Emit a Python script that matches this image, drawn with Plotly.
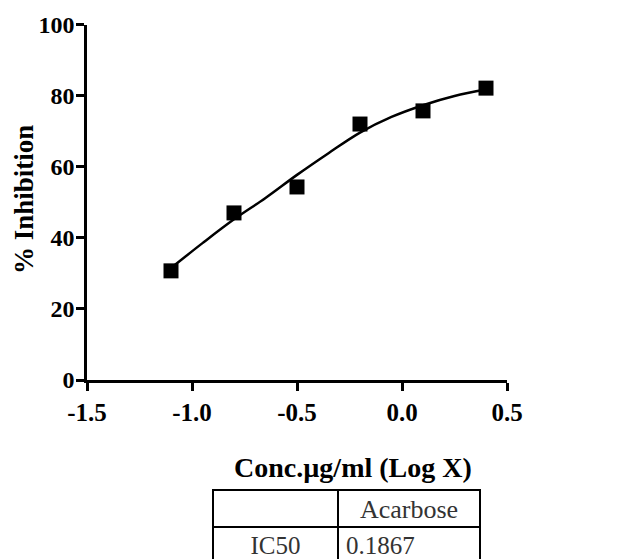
import plotly.graph_objects as go

# Data
log_conc = [-1.1, -0.8, -0.5, -0.2, 0.1, 0.4]
inhibition = [30.7, 47.0, 54.3, 72.0, 75.7, 82.1]

# Fitted curve points
curve_x = [-1.1, -0.95, -0.8, -0.65, -0.5, -0.35, -0.2, -0.05, 0.1, 0.25, 0.4]
curve_y = [31.5, 38.5, 45.2, 51.2, 57.7, 63.8, 69.6, 74.0, 77.3, 79.9, 81.7]

x_ticks = [-1.5, -1.0, -0.5, 0.0, 0.5]
x_tick_labels = ["-1.5", "-1.0", "-0.5", "0.0", "0.5"]
y_ticks = [0, 20, 40, 60, 80, 100]

table_header = ["", "Acarbose"]
table_rows = [["IC50"], ["0.1867"]]

# page body has an 8px margin, so the figure is drawn 8px smaller
W, H = 617, 551
OFF = 8
serif = "Liberation Serif, Times New Roman, serif"

L = 87 - OFF           # y-axis position
R = 507 - OFF          # right end of x axis
PW = R - L
Y0 = 380 - OFF         # y = 0
Y100 = 24.5 - OFF      # y = 100


def px(x):
    return (x - OFF - L) / PW


def py(y):
    return 1 - (y - OFF) / H


fig = go.Figure()
fig.add_trace(go.Scatter(
    x=curve_x, y=curve_y, mode="lines",
    line=dict(color="black", width=2.5, shape="spline"),
    showlegend=False, hoverinfo="skip", cliponaxis=False,
))
fig.add_trace(go.Scatter(
    x=log_conc, y=inhibition, mode="markers",
    marker=dict(symbol="square", size=15, color="black"),
    showlegend=False, cliponaxis=False,
))

fig.add_trace(go.Table(
    domain=dict(x=[px(213), px(480)], y=[0, py(490)]),
    columnwidth=[125, 142],
    header=dict(
        values=table_header,
        align=["center", "center"],
        height=37,
        line=dict(color="black", width=2.5),
        fill=dict(color="white"),
        font=dict(family=serif, size=26, color="#333"),
    ),
    cells=dict(
        values=table_rows,
        align=["center", "left"],
        height=34,
        line=dict(color="black", width=2.5),
        fill=dict(color="white"),
        font=dict(family=serif, size=25, color="#333"),
    ),
))

fig.update_layout(
    width=W, height=H,
    margin=dict(l=L, r=W - R, t=0, b=0),
    paper_bgcolor="white", plot_bgcolor="white",
    xaxis=dict(
        range=[-1.5, 0.5], domain=[0, 1], anchor="y", automargin=False,
        tickvals=x_ticks, ticktext=x_tick_labels,
        showline=True, linecolor="black", linewidth=2.5,
        ticks="outside", ticklen=8, tickwidth=2.5, tickcolor="black",
        showgrid=False, zeroline=False,
        tickfont=dict(family=serif, size=25, color="black", weight="bold"),
    ),
    yaxis=dict(
        range=[0, 100], domain=[1 - Y0 / H, 1 - Y100 / H], automargin=False,
        tickvals=y_ticks, ticklabelstandoff=-3,
        showline=True, linecolor="black", linewidth=2.5,
        ticks="outside", ticklen=8, tickwidth=2.5, tickcolor="black",
        showgrid=False, zeroline=False,
        tickfont=dict(family=serif, size=24, color="black", weight="bold"),
    ),
    annotations=[
        dict(text="% Inhibition", xref="paper", yref="paper",
             x=px(24), y=py(200), textangle=-90,
             xanchor="center", yanchor="middle", showarrow=False,
             font=dict(family=serif, size=27, color="black", weight="bold")),
        dict(text="Conc.µg/ml (Log X)", xref="paper", yref="paper",
             x=px(353), y=py(467),
             xanchor="center", yanchor="middle", showarrow=False,
             font=dict(family=serif, size=28, color="black", weight="bold")),
    ],
)

fig.write_html("out.html")
